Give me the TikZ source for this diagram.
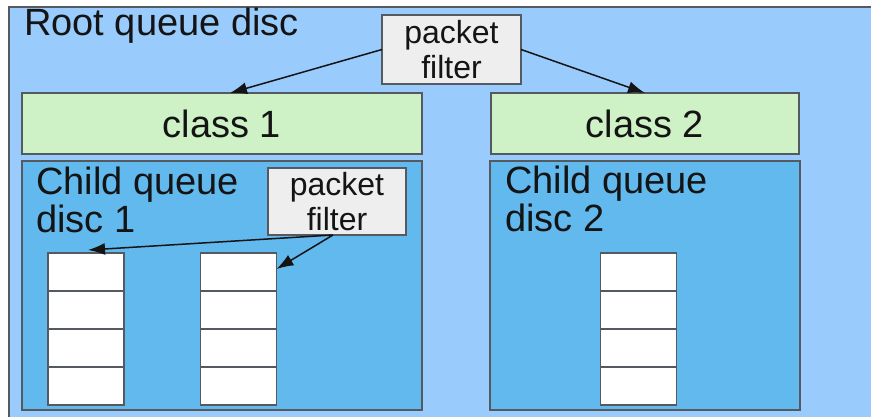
\documentclass[tikz,border=0pt]{standalone}
\usepackage{fontspec}
\setmainfont{Liberation Sans}
\usetikzlibrary{arrows.meta,calc}
\definecolor{rootblue}{RGB}{153,204,252}
\definecolor{childblue}{RGB}{98,185,237}
\definecolor{classgreen}{RGB}{206,242,198}
\definecolor{filtergray}{RGB}{238,238,238}
\definecolor{edgegray}{RGB}{85,90,96}
\definecolor{inkblack}{RGB}{20,20,20}

\begin{document}
\begin{tikzpicture}[x=1pt,y=-1pt,
  box/.style={draw=edgegray,line width=1.5pt,inner sep=0pt,outer sep=0pt,text=inkblack},
  classbox/.style={box,fill=classgreen,minimum height=61pt,font=\fontsize{38}{38}\selectfont},
  childbox/.style={box,fill=childblue,minimum height=249pt},
  filterbox/.style={box,fill=filtergray,align=center,font=\fontsize{32}{35}\selectfont},
  cell/.style={box,fill=white,minimum width=76pt,minimum height=38pt},
  label/.style={inner sep=0pt,anchor=base west,text=inkblack,font=\fontsize{38}{38}\selectfont},
  flow/.style={draw=inkblack,line width=1.5pt,-{Latex[length=17pt,width=12pt]}}
]
\useasboundingbox (0,0) rectangle (871,417);
\clip (0,0) rectangle (871,417);

% root queue discipline (runs off the right and bottom edges)
\node[box,fill=rootblue,anchor=north west,minimum width=880pt,minimum height=420pt] (root) at (9,7) {};
\node[label] (rootlbl) at (24,36) {Root queue disc};
\node[filterbox,minimum width=139pt,minimum height=69pt] (pf) at (451.5,49.5) {packet\\filter};

% classes
\node[classbox,minimum width=400pt] (class1) at (222,123.5) {class 1};
\node[classbox,minimum width=308pt] (class2) at (645,123.5) {class 2};

% child queue disciplines
\node[childbox,minimum width=400pt] (child1) at (222,285.5) {};
\node[childbox,minimum width=310pt] (child2) at (645,285.5) {};
\node[label] (c1a) at (36,195) {Child queue};
\node[label] (c1b) at (36,233) {disc 1};
\node[label] (c2a) at (505,194) {Child queue};
\node[label] (c2b) at (505,232) {disc 2};
\node[filterbox,minimum width=138pt,minimum height=67pt] (pf2) at (337,201.5) {packet\\filter};

% packet queues, four slots each
\foreach \q/\x in {a/86,b/238.5,c/638.5}{
  \foreach \i in {1,...,4}{
    \node[cell] (\q\i) at (\x,{253+19+38*(\i-1)}) {};
  }
}

% filter decisions
\draw[flow] (pf.west) -- ($(class1.north)+(8,0)$);
\draw[flow] (pf.east) -- (class2.north);
\draw[flow] ($(pf2.south)+(-4,0)$) -- ($(a1.north)+(2,-3)$);
\draw[flow] ($(pf2.south)+(-4,0)$) -- ($(b1.east)+(0,-3)$);
\end{tikzpicture}
\end{document}
